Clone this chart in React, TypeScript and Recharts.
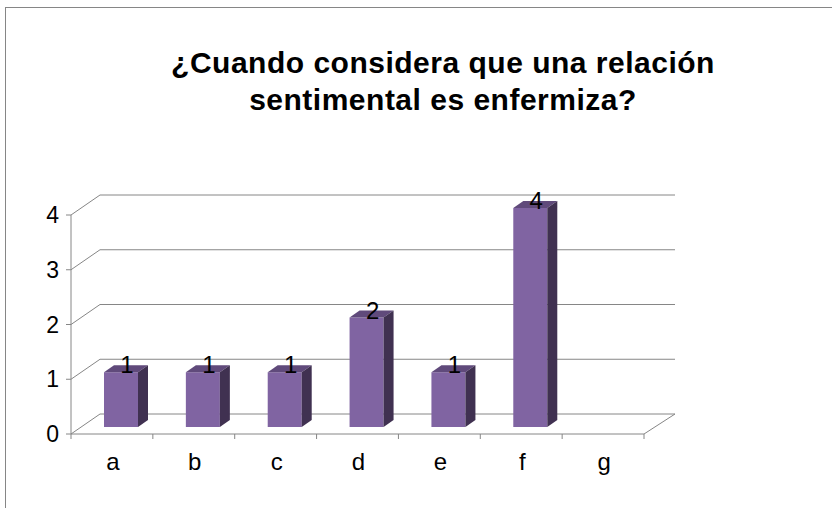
import React from "react";
import { BarChart, Bar, XAxis, YAxis, CartesianGrid, LabelList } from "recharts";

const categories = ["a", "b", "c", "d", "e", "f", "g"];
const counts = [1, 1, 1, 2, 1, 4, 0];
const yTicks = [0, 1, 2, 3, 4];

const data = categories.map((cat, i) => ({ cat, value: counts[i] }));

const W = 832;
const H = 508;
const MARGIN = { top: 215, right: 188, bottom: 44, left: 0 };
const Y_AXIS_W = 71;
const X_AXIS_H = 30;
const BAND = (W - MARGIN.left - Y_AXIS_W - MARGIN.right) / categories.length;
const PLOT_BOTTOM = H - MARGIN.bottom - X_AXIS_H;

// back wall offset (3d depth of the floor / wall)
const WALL_DX = 29;
const WALL_DY = -20;
// bars sit part way into the depth
const BAR_SX = 9;
const BAR_SY = -7;
const BAR_DX = 10;
const BAR_DY = 7;

const GRID = "#868686";
const FONT = "'Liberation Sans', Arial, sans-serif";

const Bar3D = (props: any) => {
  const { x, y, width, height } = props;
  if (!height || height <= 0) return null;
  const fx = x + BAR_SX;
  const fy = y + BAR_SY;
  const w = width;
  const h = height;
  return (
    <g>
      <rect x={fx} y={fy} width={w} height={h} fill="#8064A2" />
      <polygon
        points={`${fx},${fy} ${fx + BAR_DX},${fy - BAR_DY} ${fx + w + BAR_DX},${fy - BAR_DY} ${fx + w},${fy}`}
        fill="#604A7B"
      />
      <polygon
        points={`${fx + w},${fy} ${fx + w + BAR_DX},${fy - BAR_DY} ${fx + w + BAR_DX},${fy + h - BAR_DY} ${fx + w},${fy + h}`}
        fill="#403151"
      />
    </g>
  );
};

const gridLine = (props: any) => {
  const { x1, x2, y1, index } = props;
  const isFloor = Math.abs(y1 - PLOT_BOTTOM) < 1;
  return (
    <g key={`grid-${index}`}>
      <path
        d={`M${x1},${y1} L${x1 + WALL_DX},${y1 + WALL_DY} L${x2 + WALL_DX + 2},${y1 + WALL_DY}`}
        stroke={GRID}
        fill="none"
      />
      {isFloor && (
        <path d={`M${x2},${y1} L${x2 + WALL_DX + 2},${y1 + WALL_DY}`} stroke={GRID} fill="none" />
      )}
    </g>
  );
};

const XTick = (props: any) => {
  const { x, payload, index } = props;
  const left = x - BAND / 2;
  const right = x + BAND / 2;
  return (
    <g>
      <line x1={left} y1={PLOT_BOTTOM} x2={left} y2={PLOT_BOTTOM + 5} stroke={GRID} />
      {index === categories.length - 1 && (
        <line x1={right} y1={PLOT_BOTTOM} x2={right} y2={PLOT_BOTTOM + 5} stroke={GRID} />
      )}
      <text x={x + 1} y={PLOT_BOTTOM + 36} textAnchor="middle" fontSize={24} fill="#000" fontFamily={FONT}>
        {payload.value}
      </text>
    </g>
  );
};

const ValueLabel = (props: any) => {
  const { x, y, width, value } = props;
  if (!value) return null;
  return (
    <text
      x={x + width / 2 + BAR_SX + 6}
      y={y + BAR_SY + 1}
      textAnchor="middle"
      fontSize={24}
      fill="#000"
      fontFamily={FONT}
    >
      {value}
    </text>
  );
};

export default function App() {
  return (
    <div style={{ position: "absolute", left: 0, top: 0, width: W, height: H, overflow: "hidden", background: "#fff" }}>
      <style>{`body{margin:0;overflow:hidden}`}</style>
      <div
        style={{
          position: "absolute",
          left: 5,
          top: 7,
          width: 900,
          height: 600,
          borderLeft: `1px solid ${GRID}`,
          borderTop: `1px solid ${GRID}`,
        }}
      />
      <div
        style={{
          position: "absolute",
          left: 443,
          top: 44,
          transform: "translateX(-50%)",
          whiteSpace: "nowrap",
          textAlign: "center",
          fontFamily: FONT,
          fontWeight: 700,
          fontSize: 30,
          letterSpacing: 0.5,
          lineHeight: "37px",
          color: "#000",
        }}
      >
        ¿Cuando considera que una relación
        <br />
        sentimental es enfermiza?
      </div>
      <div style={{ position: "absolute", left: 0, top: 0 }}>
        <BarChart width={W} height={H} data={data} margin={MARGIN}>
          <CartesianGrid vertical={false} horizontal={gridLine} />
          <XAxis
            dataKey="cat"
            height={X_AXIS_H}
            axisLine={{ stroke: GRID }}
            tickLine={false}
            tick={<XTick />}
            interval={0}
          />
          <YAxis
            width={Y_AXIS_W}
            domain={[0, 4]}
            ticks={yTicks}
            axisLine={{ stroke: GRID }}
            tickLine={{ stroke: GRID }}
            tickSize={5}
            tickMargin={7}
            tick={{ fontSize: 23, fill: "#000", fontFamily: FONT }}
          />
          <Bar dataKey="value" barSize={34} shape={<Bar3D />} isAnimationActive={false}>
            <LabelList dataKey="value" content={<ValueLabel />} />
          </Bar>
        </BarChart>
      </div>
    </div>
  );
}
